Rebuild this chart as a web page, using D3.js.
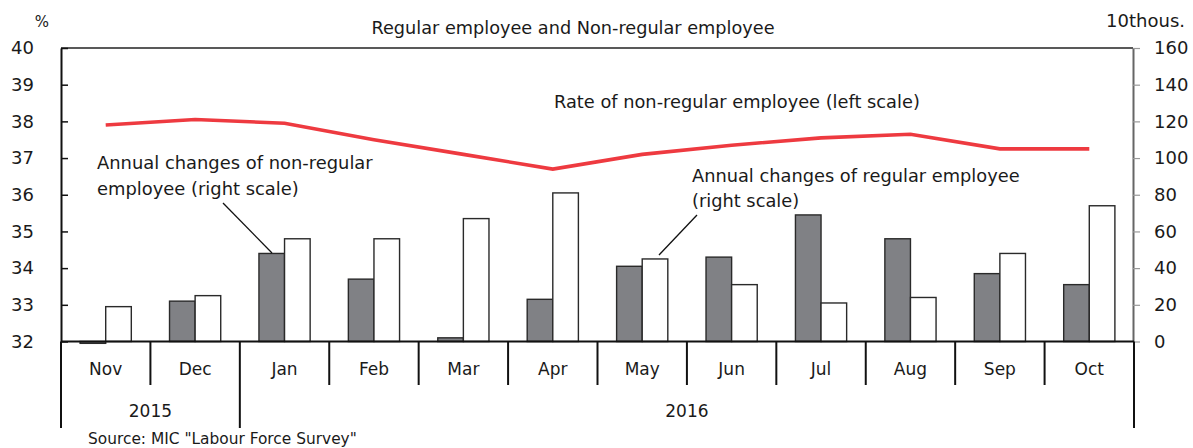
<!DOCTYPE html>
<html>
<head>
<meta charset="utf-8">
<script src="https://cdn.jsdelivr.net/npm/d3@7"></script>
<style>
  body { margin: 0; background: #fff; }
  text { font-family: "DejaVu Sans", sans-serif; fill: #1a1a1a; }
</style>
</head>
<body>
<div id="chart"></div>
<script>
// data
var months = ["Nov", "Dec", "Jan", "Feb", "Mar", "Apr", "May", "Jun", "Jul", "Aug", "Sep", "Oct"];
var nonRegularChange = [-1, 22, 48, 34, 2, 23, 41, 46, 69, 56, 37, 31];   // 10thous., right scale
var regularChange = [19, 25, 56, 56, 67, 81, 45, 31, 21, 24, 48, 74];      // 10thous., right scale
var nonRegularRate = [37.9, 38.05, 37.95, 37.5, 37.1, 36.7, 37.1, 37.35, 37.55, 37.65, 37.25, 37.25]; // %, left scale
var leftTicks = [32, 33, 34, 35, 36, 37, 38, 39, 40];
var rightTicks = [0, 20, 40, 60, 80, 100, 120, 140, 160];
var years = [
  {label: "2015", from: "Nov", to: "Dec"},
  {label: "2016", from: "Jan", to: "Oct"}
];

var W = 1193, H = 448;
var mLeft = 61, mRight = 1134, mTop = 48, mBottom = 341.5;

var svg = d3.select("#chart").append("svg")
    .attr("width", W)
    .attr("height", H);

var x = d3.scaleBand()
    .domain(months)
    .range([mLeft, mRight]);
var bw = x.bandwidth();
var barW = 25.6;

var sub = d3.scaleBand()
    .domain(["nonreg", "reg"])
    .range([bw / 2 - barW, bw / 2 + barW]);

var yL = d3.scaleLinear().domain([32, 40]).range([mBottom, mTop]);
var yR = d3.scaleLinear().domain([0, 160]).range([mBottom, mTop]);

// top frame line
svg.append("line")
    .attr("x1", mLeft).attr("x2", mRight - 1)
    .attr("y1", mTop).attr("y2", mTop)
    .attr("stroke", "#222").attr("stroke-width", 1.6);

// bars
var rows = months.map(function(m, i) {
  return {m: m, nonreg: nonRegularChange[i], reg: regularChange[i]};
});
var g = svg.selectAll(".grp")
    .data(rows)
    .enter().append("g")
    .attr("transform", function(d) { return "translate(" + x(d.m) + ",0)"; });

g.append("rect")
    .attr("x", sub("nonreg"))
    .attr("width", sub.bandwidth())
    .attr("y", function(d) { return yR(Math.max(0, d.nonreg)); })
    .attr("height", function(d) { return Math.abs(yR(d.nonreg) - yR(0)); })
    .attr("fill", "#808185")
    .attr("stroke", "#2a2a2a").attr("stroke-width", 1.4);

g.append("rect")
    .attr("x", sub("reg"))
    .attr("width", sub.bandwidth())
    .attr("y", function(d) { return yR(Math.max(0, d.reg)); })
    .attr("height", function(d) { return Math.abs(yR(d.reg) - yR(0)); })
    .attr("fill", "#fff")
    .attr("stroke", "#2a2a2a").attr("stroke-width", 1.4);

// rate line
var line = d3.line()
    .x(function(d, i) { return x(months[i]) + bw / 2; })
    .y(function(d) { return yL(d); });

svg.append("path")
    .datum(nonRegularRate)
    .attr("d", line)
    .attr("fill", "none")
    .attr("stroke", "#ee3a40")
    .attr("stroke-width", 3.6);

// left axis, ticks inside
var axL = svg.append("g")
    .attr("transform", "translate(" + mLeft + ",0)")
    .call(d3.axisLeft(yL).tickValues(leftTicks).tickSizeInner(-7).tickSizeOuter(0).tickPadding(27));
axL.select(".domain").attr("stroke", "#111").attr("stroke-width", 2);
axL.selectAll(".tick line").attr("stroke", "#111").attr("stroke-width", 1.5);
axL.selectAll(".tick text").style("font-size", "18px").style("font-family", "DejaVu Sans").attr("fill", "#1a1a1a");

// right axis, ticks outside
var axR = svg.append("g")
    .attr("transform", "translate(" + (mRight - 1) + ",0)")
    .call(d3.axisRight(yR).tickValues(rightTicks).tickSizeInner(7).tickSizeOuter(0).tickPadding(14));
axR.select(".domain").attr("stroke", "#666").attr("stroke-width", 2);
axR.selectAll(".tick line").attr("stroke", "#999").attr("stroke-width", 1.2);
axR.selectAll(".tick text").style("font-size", "18px").style("font-family", "DejaVu Sans").attr("fill", "#1a1a1a");

// bottom axis line
svg.append("line")
    .attr("x1", mLeft).attr("x2", mRight)
    .attr("y1", mBottom).attr("y2", mBottom)
    .attr("stroke", "#111").attr("stroke-width", 2.2);

// month and year separators
var yearEdges = [];
years.forEach(function(y) { yearEdges.push(months.indexOf(y.from)); });
yearEdges.push(months.length);
d3.range(months.length + 1).forEach(function(i) {
  var xx = mLeft + i * bw;
  svg.append("line")
      .attr("x1", xx).attr("x2", xx)
      .attr("y1", mBottom).attr("y2", yearEdges.indexOf(i) >= 0 ? 428 : 385)
      .attr("stroke", "#111").attr("stroke-width", 2);
});

svg.selectAll(".month")
    .data(months)
    .enter().append("text")
    .attr("x", function(d) { return x(d) + bw / 2; })
    .attr("y", 375)
    .attr("text-anchor", "middle")
    .style("font-size", "17px")
    .text(function(d) { return d; });

svg.selectAll(".year")
    .data(years)
    .enter().append("text")
    .attr("x", function(d) { return (x(d.from) + x(d.to) + bw) / 2; })
    .attr("y", 417)
    .attr("text-anchor", "middle")
    .style("font-size", "17px")
    .text(function(d) { return d.label; });

// titles and units
svg.append("text").attr("x", 573).attr("y", 34).attr("text-anchor", "middle")
    .style("font-size", "17.7px").text("Regular employee and Non-regular employee");
svg.append("text").attr("x", 42).attr("y", 27).attr("text-anchor", "middle")
    .style("font-size", "15px").text("%");
svg.append("text").attr("x", 1185).attr("y", 27).attr("text-anchor", "end")
    .style("font-size", "18px").text("10thous.");
svg.append("text").attr("x", 88).attr("y", 444)
    .style("font-size", "15.4px").text("Source: MIC \"Labour Force Survey\"");

// annotations
svg.append("text").attr("x", 554).attr("y", 108)
    .style("font-size", "17.8px").text("Rate of non-regular employee (left scale)");

svg.append("text").attr("x", 97).attr("y", 169)
    .style("font-size", "17.9px").text("Annual changes of non-regular");
svg.append("text").attr("x", 97).attr("y", 195)
    .style("font-size", "17.9px").text("employee (right scale)");
svg.append("line")
    .attr("x1", 223).attr("y1", 203).attr("x2", 272).attr("y2", 253)
    .attr("stroke", "#111").attr("stroke-width", 1.3);

svg.append("text").attr("x", 692).attr("y", 182)
    .style("font-size", "17.8px").text("Annual changes of regular employee");
svg.append("text").attr("x", 692).attr("y", 207)
    .style("font-size", "17.8px").text("(right scale)");
svg.append("line")
    .attr("x1", 697).attr("y1", 215).attr("x2", 659).attr("y2", 255)
    .attr("stroke", "#111").attr("stroke-width", 1.3);
</script>
</body>
</html>
